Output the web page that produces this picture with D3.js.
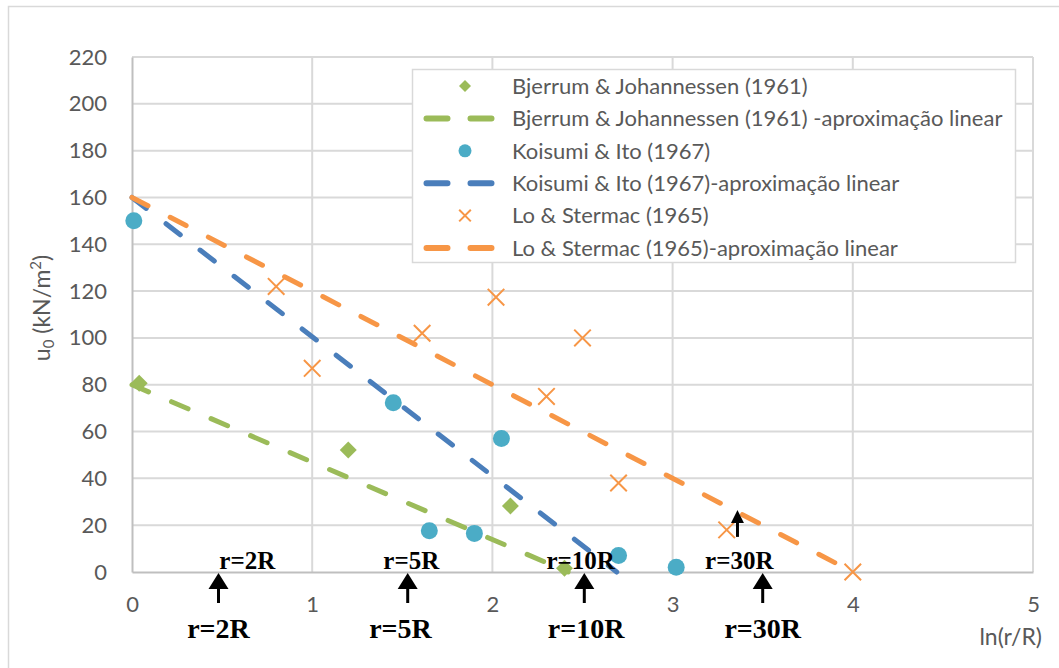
<!DOCTYPE html>
<html>
<head>
<meta charset="utf-8">
<script src="https://cdn.jsdelivr.net/npm/d3@7"></script>
<style>
    body { margin: 0; background: #fff; }
    svg { display: block; font-family: Lato, "Open Sans", sans-serif; }
</style>
</head>
<body>
<div id="chart"></div>
<script>
// values
const bjerrumX = [0.04, 1.20, 2.10, 2.40];
const bjerrumY = [80.6, 52.1, 28.2, 1.6];
const koisumiX = [0.01, 1.45, 1.65, 1.90, 2.05, 2.70, 3.02];
const koisumiY = [150, 72.3, 17.6, 16.5, 57.0, 7.0, 2.0];
const loX = [0.80, 1.00, 1.61, 2.02, 2.30, 2.50, 2.70, 3.30, 4.00];
const loY = [122, 87, 102, 117.4, 75, 100, 38, 18, 0];

// linear approximations (end points)
const bjerrumFit = [[0, 80], [2.42, 0]];
const koisumiFit = [[0, 160], [2.69, 0]];
const loFit = [[0, 160], [4, 0]];

const xTicks = [0, 1, 2, 3, 4, 5];
const yTicks = [0, 20, 40, 60, 80, 100, 120, 140, 160, 180, 200, 220];

// hand-drawn r/R markers (x in ln(r/R) units)
const markLabels = ["r=2R", "r=5R", "r=10R", "r=30R"];
const markArrowX = [0.48, 1.53, 2.51, 3.50];
const markUpperX = [0.64, 1.55, 2.49, 3.37];
const markLowerX = [0.48, 1.49, 2.52, 3.50];
const extraArrow = { x: 3.36, from: 15, to: 26.5 };

const legendNames = [
    "Bjerrum & Johannessen (1961)",
    "Bjerrum & Johannessen (1961) -aproximação linear",
    "Koisumi & Ito (1967)",
    "Koisumi & Ito (1967)-aproximação linear",
    "Lo & Stermac (1965)",
    "Lo & Stermac (1965)-aproximação linear"
];

const green = "#9bbb59", cyan = "#4bacc6", blue = "#4a7ebb", orange = "#f79646";
const grey = "#595959";

const width = 1059, height = 668;
const margin = { left: 132, right: 26, top: 57, bottom: 96 };

const svg = d3.select("#chart").append("svg")
    .attr("width", width)
    .attr("height", height);

// outer chart border
svg.append("rect")
    .attr("x", 8.5).attr("y", 6.5)
    .attr("width", 1100).attr("height", 800)
    .attr("fill", "none").attr("stroke", "#d9d9d9").attr("stroke-width", 1.5);

const x = d3.scaleLinear().domain([0, 5]).range([margin.left, width - margin.right]);
const y = d3.scaleLinear().domain([0, 220]).range([height - margin.bottom, margin.top]);

// gridlines
svg.append("g").selectAll("line").data(yTicks.slice(1)).enter().append("line")
    .attr("x1", x(0)).attr("x2", x(5))
    .attr("y1", d => y(d)).attr("y2", d => y(d))
    .attr("stroke", "#d9d9d9").attr("stroke-width", 2);
svg.append("g").selectAll("line").data(xTicks.slice(1)).enter().append("line")
    .attr("x1", d => x(d)).attr("x2", d => x(d))
    .attr("y1", y(0)).attr("y2", y(220))
    .attr("stroke", "#d9d9d9").attr("stroke-width", 2);

// axes
let xAxis = svg.append("g")
    .attr("transform", "translate(0," + y(0) + ")")
    .call(d3.axisBottom(x).tickValues(xTicks).tickSize(0).tickPadding(24).tickFormat(d3.format("d")));
let yAxis = svg.append("g")
    .attr("transform", "translate(" + x(0) + ",0)")
    .call(d3.axisLeft(y).tickValues(yTicks).tickSize(0).tickPadding(25));
[xAxis, yAxis].forEach(a => {
    a.select(".domain").attr("stroke", "#bfbfbf").attr("stroke-width", 2);
    a.selectAll("text").attr("fill", grey).style("font-size", "22px").style("font-family", "Lato, sans-serif");
});

// axis titles
const yTitle = svg.append("text")
    .attr("transform", "translate(42,308) rotate(-90)")
    .attr("text-anchor", "middle")
    .attr("dy", "0.35em")
    .attr("fill", grey)
    .style("font-size", "23px");
yTitle.append("tspan").text("u");
yTitle.append("tspan").text("0").attr("baseline-shift", "-25%").style("font-size", "15px");
yTitle.append("tspan").text(" (kN/m");
yTitle.append("tspan").text("2").attr("baseline-shift", "super").style("font-size", "15px");
yTitle.append("tspan").text(")");

svg.append("text")
    .attr("x", 1042).attr("y", 645)
    .attr("text-anchor", "end")
    .attr("fill", grey)
    .style("font-size", "23px")
    .text("ln(r/R)");

// dashed linear approximations
const line = d3.line().x(d => x(d[0])).y(d => y(d[1]));
const fits = [[bjerrumFit, green], [koisumiFit, blue], [loFit, orange]];
fits.forEach(f => {
    svg.append("path")
        .attr("d", line(f[0]))
        .attr("fill", "none")
        .attr("stroke", f[1])
        .attr("stroke-width", 5)
        .attr("stroke-linecap", "round")
        .attr("stroke-dasharray", "18,25");
});

// markers
const diamond = d3.symbol(d3.symbolSquare, 144);
svg.append("g").selectAll("path").data(d3.zip(bjerrumX, bjerrumY)).enter().append("path")
    .attr("d", diamond)
    .attr("transform", d => "translate(" + x(d[0]) + "," + y(d[1]) + ") rotate(45)")
    .attr("fill", green);

svg.append("g").selectAll("circle").data(d3.zip(koisumiX, koisumiY)).enter().append("circle")
    .attr("cx", d => x(d[0])).attr("cy", d => y(d[1]))
    .attr("r", 8.5)
    .attr("fill", cyan);

const cross = d3.symbol(d3.symbolX, 180);
svg.append("g").selectAll("path").data(d3.zip(loX, loY)).enter().append("path")
    .attr("d", cross)
    .attr("transform", d => "translate(" + x(d[0]) + "," + y(d[1]) + ")")
    .attr("fill", "none")
    .attr("stroke", orange)
    .attr("stroke-width", 2);

// legend
const lg = svg.append("g");
lg.append("rect")
    .attr("x", 412.5).attr("y", 69.5)
    .attr("width", 603).attr("height", 193)
    .attr("fill", "#fff").attr("stroke", "#d9d9d9").attr("stroke-width", 1.5);

const rowY = d3.scalePoint().domain(d3.range(legendNames.length)).range([86, 248]);
legendNames.forEach((name, i) => {
    let cy = rowY(i);
    if (i == 0) {
        lg.append("path").attr("d", d3.symbol(d3.symbolSquare, 72))
            .attr("transform", "translate(465," + cy + ") rotate(45)").attr("fill", green);
    }
    else if (i == 2) {
        lg.append("circle").attr("cx", 465).attr("cy", cy).attr("r", 6.5).attr("fill", cyan);
    }
    else if (i == 4) {
        lg.append("path").attr("d", d3.symbol(d3.symbolX, 90))
            .attr("transform", "translate(465," + cy + ")")
            .attr("fill", "none").attr("stroke", orange).attr("stroke-width", 2);
    }
    else {
        let col = i == 1 ? green : (i == 3 ? blue : orange);
        lg.append("line")
            .attr("x1", 426.5).attr("x2", 491.5).attr("y1", cy).attr("y2", cy)
            .attr("stroke", col).attr("stroke-width", 6)
            .attr("stroke-linecap", "round")
            .attr("stroke-dasharray", "21,23");
    }
    lg.append("text")
        .attr("x", 512).attr("y", cy).attr("dy", "0.35em")
        .attr("fill", grey)
        .style("font-size", "22px")
        .text(name);
});

// r/R annotations
const serif = "'Liberation Serif', 'Times New Roman', serif";
const arrow = (ax, tip, base, bottom, half) => {
    svg.append("line")
        .attr("x1", ax).attr("x2", ax).attr("y1", base - 1).attr("y2", bottom)
        .attr("stroke", "#000").attr("stroke-width", 3);
    svg.append("path")
        .attr("d", "M" + ax + "," + tip + "L" + (ax + half) + "," + base + "L" + (ax - half) + "," + base + "Z")
        .attr("fill", "#000");
};

markLabels.forEach((lab, i) => {
    svg.append("text")
        .attr("x", x(markUpperX[i])).attr("y", y(0) - 3)
        .attr("text-anchor", "middle")
        .style("font-family", serif).style("font-weight", "bold").style("font-size", "25px")
        .text(lab);
    arrow(x(markArrowX[i]), y(0) + 1, y(0) + 17, y(0) + 31, 10);
    svg.append("text")
        .attr("x", x(markLowerX[i])).attr("y", y(0) + 66)
        .attr("text-anchor", "middle")
        .style("font-family", serif).style("font-weight", "bold").style("font-size", "28px")
        .text(lab);
});
arrow(x(extraArrow.x), y(extraArrow.to), y(extraArrow.to) + 13, y(extraArrow.from), 6.5);
</script>
</body>
</html>
